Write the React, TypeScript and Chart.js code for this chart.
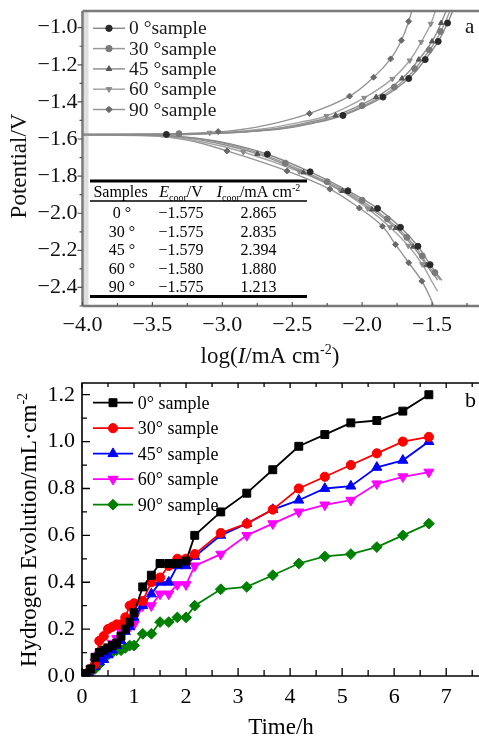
import React, { useEffect, useRef } from 'react';
import { Chart, registerables } from 'chart.js';

Chart.register(...registerables);

const SERIF = '"Liberation Serif", "Times New Roman", "DejaVu Serif", serif';
const CW = 479;
const CH = 370;

type Pt = [number, number];

// ---------------- Panel a: polarization curves (log I, E) ----------------
const aSampleLabels = ['0 °sample', '30 °sample', '45 °sample', '60 °sample', '90 °sample'];
const aXTickValues = [-4.0, -3.5, -3.0, -2.5, -2.0, -1.5];
const aYTickValues = [-2.4, -2.2, -2.0, -1.8, -1.6, -1.4, -1.2, -1.0];

const aCurve0: Pt[] = [
  [-1.43, -2.362], [-1.514, -2.277], [-1.601, -2.178], [-1.726, -2.076], [-1.89, -1.974], [-2.102, -1.879],
  [-2.372, -1.777], [-2.678, -1.682], [-2.95, -1.625], [-3.2, -1.594], [-3.5, -1.579], [-4.3, -1.576],
  [-3.5, -1.574], [-3.0, -1.567], [-2.6, -1.547], [-2.35, -1.515], [-2.137, -1.473], [-1.851, -1.374],
  [-1.667, -1.274], [-1.549, -1.172], [-1.456, -1.074], [-1.389, -0.975], [-1.33, -0.87],
];
const aCurve30: Pt[] = [
  [-1.44, -2.36], [-1.53, -2.28], [-1.62, -2.18], [-1.745, -2.08], [-1.91, -1.98], [-2.12, -1.88],
  [-2.4, -1.78], [-2.72, -1.68], [-3.0, -1.62], [-3.25, -1.592], [-3.5, -1.578], [-4.3, -1.575],
  [-3.5, -1.573], [-3.0, -1.566], [-2.62, -1.546], [-2.37, -1.514], [-2.157, -1.473], [-1.871, -1.374],
  [-1.687, -1.274], [-1.569, -1.172], [-1.476, -1.074], [-1.409, -0.975], [-1.35, -0.87],
];
const aCurve45: Pt[] = [
  [-1.46, -2.36], [-1.54, -2.28], [-1.635, -2.18], [-1.76, -2.08], [-1.93, -1.98], [-2.14, -1.88],
  [-2.42, -1.78], [-2.75, -1.68], [-3.05, -1.62], [-3.3, -1.59], [-3.55, -1.58], [-4.3, -1.579],
  [-3.55, -1.578], [-3.05, -1.57], [-2.67, -1.55], [-2.41, -1.515], [-2.19, -1.473], [-1.9, -1.374],
  [-1.715, -1.274], [-1.595, -1.172], [-1.5, -1.074], [-1.435, -0.975], [-1.38, -0.87],
];
const aCurve60: Pt[] = [
  [-1.46, -2.42], [-1.5, -2.37], [-1.57, -2.275], [-1.67, -2.175], [-1.8, -2.075], [-1.96, -1.975],
  [-2.16, -1.875], [-2.45, -1.775], [-2.85, -1.67], [-3.15, -1.615], [-3.45, -1.585], [-4.3, -1.58],
  [-3.5, -1.579], [-3.0, -1.566], [-2.7, -1.545], [-2.45, -1.51], [-2.255, -1.476], [-1.985, -1.378],
  [-1.784, -1.276], [-1.66, -1.177], [-1.578, -1.077], [-1.509, -0.979], [-1.46, -0.87],
];
const aCurve90: Pt[] = [
  [-1.47, -2.55], [-1.491, -2.493], [-1.573, -2.366], [-1.667, -2.267], [-1.761, -2.169], [-1.855, -2.07],
  [-2.02, -1.972], [-2.231, -1.87], [-2.537, -1.772], [-2.967, -1.664], [-3.25, -1.605], [-3.5, -1.582],
  [-4.3, -1.575], [-3.6, -1.575], [-3.2, -1.569], [-2.9, -1.553], [-2.65, -1.52], [-2.377, -1.462],
  [-2.09, -1.369], [-1.918, -1.267], [-1.796, -1.168], [-1.719, -1.068], [-1.667, -0.966], [-1.63, -0.87],
];

const aMarkers0: Pt[] = [
  [-3.4, -1.575], [-2.678, -1.682], [-2.372, -1.777], [-2.102, -1.879], [-1.89, -1.974], [-1.726, -2.076],
  [-1.601, -2.178], [-1.514, -2.277], [-2.137, -1.473], [-1.851, -1.374], [-1.667, -1.274], [-1.549, -1.172],
  [-1.456, -1.074], [-1.389, -0.975],
];
const aMarkers30: Pt[] = [
  [-3.31, -1.571], [-2.55, -1.73], [-2.25, -1.83], [-2.0, -1.93], [-1.82, -2.03], [-1.68, -2.13],
  [-1.57, -2.23], [-1.48, -2.32], [-2.0, -1.42], [-1.77, -1.32], [-1.625, -1.22], [-1.52, -1.12], [-1.44, -1.02],
];
const aMarkers45: Pt[] = [
  [-2.75, -1.68], [-2.42, -1.78], [-2.14, -1.88], [-1.93, -1.98], [-1.76, -2.08], [-1.635, -2.18],
  [-1.54, -2.28], [-2.19, -1.473], [-1.9, -1.374], [-1.715, -1.274], [-1.595, -1.172], [-1.5, -1.074], [-1.435, -0.975],
];
const aMarkers60: Pt[] = [
  [-3.09, -1.566], [-2.85, -1.67], [-2.45, -1.775], [-2.16, -1.875], [-1.96, -1.975], [-1.8, -2.075],
  [-1.67, -2.175], [-1.57, -2.275], [-2.255, -1.476], [-1.985, -1.378], [-1.784, -1.276], [-1.66, -1.177],
  [-1.578, -1.077], [-1.509, -0.979],
];
const aMarkers90: Pt[] = [
  [-3.03, -1.56], [-2.967, -1.664], [-2.537, -1.772], [-2.231, -1.87], [-2.02, -1.972], [-1.855, -2.07],
  [-1.761, -2.169], [-1.667, -2.267], [-1.573, -2.366], [-2.377, -1.462], [-2.09, -1.369], [-1.918, -1.267],
  [-1.796, -1.168], [-1.719, -1.068], [-1.667, -0.966],
];

const tableSamples = ['0 °', '30 °', '45 °', '60 °', '90 °'];
const tableEcorr = [-1.575, -1.575, -1.579, -1.58, -1.575];
const tableIcorr = ['2.865', '2.835', '2.394', '1.880', '1.213'];

// ---------------- Panel b: hydrogen evolution vs time ----------------
const bSampleLabels = ['0° sample', '30° sample', '45° sample', '60° sample', '90° sample'];
const bXTickValues = [0, 1, 2, 3, 4, 5, 6, 7];
const bYTickValues = [0, 0.2, 0.4, 0.6, 0.8, 1.0, 1.2];
const bTime = [0, 0.083, 0.167, 0.25, 0.333, 0.417, 0.5, 0.583, 0.667, 0.75, 0.833, 0.917, 1.0, 1.167, 1.333, 1.5, 1.667, 1.833, 2.0, 2.167, 2.667, 3.167, 3.667, 4.167, 4.667, 5.167, 5.667, 6.167, 6.667];
const b0 = [0, 0.01, 0.03, 0.08, 0.1, 0.11, 0.12, 0.13, 0.14, 0.17, 0.2, 0.23, 0.27, 0.38, 0.43, 0.48, 0.48, 0.48, 0.49, 0.6, 0.7, 0.78, 0.88, 0.98, 1.03, 1.08, 1.09, 1.13, 1.2];
const b30 = [0, 0.01, 0.03, 0.05, 0.15, 0.17, 0.2, 0.21, 0.22, 0.22, 0.25, 0.3, 0.31, 0.32, 0.4, 0.42, 0.47, 0.5, 0.5, 0.52, 0.61, 0.65, 0.71, 0.8, 0.85, 0.9, 0.95, 1.0, 1.02];
const b45 = [0, 0, 0, 0.04, 0.06, 0.07, 0.09, 0.11, 0.13, 0.15, 0.19, 0.21, 0.25, 0.3, 0.35, 0.4, 0.4, 0.47, 0.47, 0.51, 0.6, 0.65, 0.71, 0.75, 0.8, 0.81, 0.89, 0.92, 1.0];
const b60 = [0, 0.01, 0.03, 0.06, 0.09, 0.11, 0.12, 0.14, 0.16, 0.19, 0.21, 0.21, 0.22, 0.3, 0.3, 0.35, 0.35, 0.39, 0.39, 0.47, 0.52, 0.6, 0.65, 0.7, 0.73, 0.75, 0.82, 0.85, 0.87];
const b90 = [0, 0.01, 0.02, 0.03, 0.05, 0.08, 0.09, 0.1, 0.11, 0.11, 0.12, 0.13, 0.13, 0.18, 0.18, 0.23, 0.23, 0.25, 0.25, 0.3, 0.37, 0.38, 0.43, 0.48, 0.51, 0.52, 0.55, 0.6, 0.65];

// ---------------- helpers ----------------
const toXY = (arr: Pt[]) => arr.map(([x, y]) => ({ x, y }));
const fmtMinus = (v: number, d = 1) => (v < 0 ? '\u2212' : '') + Math.abs(v).toFixed(d);

type Part = { t: string; it?: boolean; sup?: boolean; sub?: boolean };
function drawRich(ctx: CanvasRenderingContext2D, parts: Part[], x: number, y: number, size: number, align: 'left' | 'center', color = '#000') {
  const fontFor = (p: Part) => `${p.it ? 'italic ' : ''}${p.sup || p.sub ? Math.round(size * 0.62) : size}px ${SERIF}`;
  const widths = parts.map((p) => { ctx.font = fontFor(p); return ctx.measureText(p.t).width; });
  const total = widths.reduce((a, b) => a + b, 0);
  let cx = align === 'center' ? x - total / 2 : x;
  ctx.fillStyle = color;
  ctx.textAlign = 'left';
  ctx.textBaseline = 'alphabetic';
  parts.forEach((p, i) => {
    ctx.font = fontFor(p);
    const dy = p.sup ? -size * 0.4 : p.sub ? size * 0.22 : 0;
    ctx.fillText(p.t, cx, y + dy);
    cx += widths[i];
  });
}

function drawMarker(ctx: CanvasRenderingContext2D, style: string, x: number, y: number, r: number, color: string) {
  ctx.save();
  ctx.fillStyle = color;
  ctx.strokeStyle = color;
  ctx.lineWidth = 1;
  ctx.beginPath();
  if (style === 'rect') {
    const s = r * Math.SQRT1_2;
    ctx.rect(x - s, y - s, 2 * s, 2 * s);
  } else if (style === 'circle') {
    ctx.arc(x, y, r, 0, Math.PI * 2);
  } else if (style === 'triangle') {
    ctx.moveTo(x, y - r); ctx.lineTo(x + r * 0.866, y + r * 0.5); ctx.lineTo(x - r * 0.866, y + r * 0.5); ctx.closePath();
  } else if (style === 'triangleDown') {
    ctx.moveTo(x, y + r); ctx.lineTo(x + r * 0.866, y - r * 0.5); ctx.lineTo(x - r * 0.866, y - r * 0.5); ctx.closePath();
  } else {
    ctx.moveTo(x, y - r); ctx.lineTo(x + r, y); ctx.lineTo(x, y + r); ctx.lineTo(x - r, y); ctx.closePath();
  }
  ctx.fill();
  ctx.stroke();
  ctx.restore();
}

const noScalePadding = (s: any) => { s.paddingTop = 0; s.paddingBottom = 0; s.paddingLeft = 0; s.paddingRight = 0; };

// ---------------- Panel a ----------------
const aLineColors = ['#8a8a8a', '#9a9a9a', '#8f8f8f', '#a5a5a5', '#959595'];
const aMarkColors = ['#2a2a2a', '#7a7a7a', '#555555', '#8c8c8c', '#6a6a6a'];
const aMarkStyles = ['circle', 'circle', 'triangle', 'triangleDown', 'rectRot'];

const decorA = {
  id: 'decorA',
  afterDraw(chart: any) {
    const { ctx, chartArea: a, scales } = chart;
    const xs = scales.x, ys = scales.y;
    ctx.save();
    // frame
    ctx.fillStyle = 'rgba(150,150,150,0.3)';
    ctx.fillRect(a.left + 1, a.top, 5, a.bottom - a.top);
    ctx.strokeStyle = '#7a7a7a';
    ctx.lineWidth = 2.5;
    ctx.beginPath();
    ctx.moveTo(a.left, a.top); ctx.lineTo(CW, a.top);
    ctx.moveTo(a.left, a.top); ctx.lineTo(a.left, a.bottom);
    ctx.moveTo(a.left, a.bottom); ctx.lineTo(CW, a.bottom);
    ctx.stroke();
    // ticks
    ctx.lineWidth = 1.2;
    ctx.strokeStyle = '#555';
    ctx.beginPath();
    for (let k = -25; k <= -10; k++) {
      const py = ys.getPixelForValue(k / 10);
      const len = k % 2 === 0 ? 5 : 3;
      ctx.moveTo(a.left - len, py); ctx.lineTo(a.left, py);
    }
    for (let k = -16; k <= -5; k++) {
      const px = xs.getPixelForValue(k / 4);
      const len = k % 2 === 0 ? 4 : 3;
      ctx.moveTo(px, a.bottom); ctx.lineTo(px, a.bottom - len);
    }
    ctx.stroke();

    // legend
    aSampleLabels.forEach((lab, i) => {
      const yc = 28.3 + i * 20.3;
      ctx.strokeStyle = aLineColors[i];
      ctx.lineWidth = 1.5;
      ctx.beginPath(); ctx.moveTo(93, yc); ctx.lineTo(125, yc); ctx.stroke();
      drawMarker(ctx, aMarkStyles[i], 109, yc, 3.2, aMarkColors[i]);
      drawRich(ctx, [{ t: lab }], 129, yc + 6, 19.5, 'left', '#1a1a1a');
    });

    // panel letter
    drawRich(ctx, [{ t: 'a' }], 465, 33, 21, 'left', '#111');

    // inset table
    ctx.strokeStyle = '#000';
    ctx.lineWidth = 3;
    ctx.beginPath(); ctx.moveTo(90, 181); ctx.lineTo(307, 181); ctx.stroke();
    ctx.beginPath(); ctx.moveTo(90, 296.5); ctx.lineTo(307, 296.5); ctx.stroke();
    ctx.lineWidth = 1.5;
    ctx.beginPath(); ctx.moveTo(90, 201); ctx.lineTo(307, 201); ctx.stroke();
    drawRich(ctx, [{ t: 'Samples' }], 120.5, 197, 16, 'center');
    drawRich(ctx, [{ t: 'E', it: true }, { t: 'coor', sub: true }, { t: '/V' }], 181, 197, 16, 'center');
    drawRich(ctx, [{ t: 'I', it: true }, { t: 'coor', sub: true }, { t: '/mA cm' }, { t: '-2', sup: true }], 258.5, 197, 16, 'center');
    tableSamples.forEach((s, i) => {
      const by = 218 + i * 18.6;
      drawRich(ctx, [{ t: s }], 122, by, 16, 'center');
      drawRich(ctx, [{ t: fmtMinus(tableEcorr[i], 3) }], 181, by, 16, 'center');
      drawRich(ctx, [{ t: tableIcorr[i] }], 258.5, by, 16, 'center');
    });

    // axis titles
    drawRich(ctx, [{ t: 'log(' }, { t: 'I', it: true }, { t: '/mA cm' }, { t: '-2', sup: true }, { t: ')' }], 270, 363, 23, 'center', '#111');
    ctx.save();
    ctx.translate(18, 166);
    ctx.rotate(-Math.PI / 2);
    drawRich(ctx, [{ t: 'Potential/V' }], 0, 8, 23, 'center', '#111');
    ctx.restore();
    ctx.restore();
  },
};

function PanelA() {
  const ref = useRef<HTMLCanvasElement>(null);
  useEffect(() => {
    const curves = [aCurve0, aCurve30, aCurve45, aCurve60, aCurve90];
    const markers = [aMarkers0, aMarkers30, aMarkers45, aMarkers60, aMarkers90];
    const datasets: any[] = [
      ...curves.map((c, i) => ({
        label: aSampleLabels[i] + ' curve',
        data: toXY(c),
        showLine: true,
        borderColor: aLineColors[i],
        borderWidth: 1.4,
        pointRadius: 0,
        tension: 0.4,
        order: 2,
      })),
      ...markers.map((m, i) => ({
        label: aSampleLabels[i],
        data: toXY(m),
        showLine: false,
        pointRadius: 3,
        pointStyle: aMarkStyles[i] === 'triangleDown' ? 'triangle' : aMarkStyles[i],
        pointRotation: aMarkStyles[i] === 'triangleDown' ? 180 : 0,
        backgroundColor: aMarkColors[i],
        borderColor: aMarkColors[i],
        borderWidth: 1,
        order: 1,
      })),
    ];
    const tickFont = { family: SERIF, size: 22 };
    const chart = new Chart(ref.current as HTMLCanvasElement, {
      type: 'scatter',
      data: { datasets },
      options: {
        animation: false,
        responsive: false,
        devicePixelRatio: 1,
        layout: { padding: { top: 11, left: 0, right: 0, bottom: 0 } },
        elements: { line: { capBezierPoints: false } as any },
        plugins: { legend: { display: false }, tooltip: { enabled: false }, title: { display: false } },
        scales: {
          x: {
            type: 'linear', min: -4, max: -1.2,
            grid: { display: false, drawTicks: false },
            border: { display: false },
            afterBuildTicks: (s: any) => { s.ticks = aXTickValues.map((v) => ({ value: v })); },
            afterFit: (s: any) => { s.height = 64; noScalePadding(s); },
            ticks: { padding: 6, font: tickFont, color: '#111', autoSkip: false, maxRotation: 0, callback: (v: any) => fmtMinus(Number(v)) },
          },
          y: {
            type: 'linear', min: -2.5, max: -0.91,
            grid: { display: false, drawTicks: false },
            border: { display: false },
            afterBuildTicks: (s: any) => { s.ticks = aYTickValues.map((v) => ({ value: v })); },
            afterFit: (s: any) => { s.width = 82.5; noScalePadding(s); },
            ticks: { padding: 5, font: tickFont, color: '#111', autoSkip: false, callback: (v: any) => fmtMinus(Number(v)) },
          },
        },
      } as any,
      plugins: [decorA],
    });
    return () => chart.destroy();
  }, []);
  return <canvas ref={ref} width={CW} height={CH} style={{ position: 'absolute', left: 0, top: 0, width: CW, height: CH }} />;
}

// ---------------- Panel b ----------------
const bColors = ['#000000', '#ff0000', '#0000ff', '#ff00ff', '#008000'];
const bStyles = ['rect', 'circle', 'triangle', 'triangleDown', 'rectRot'];
const bRadius = [5.6, 4.6, 5.8, 5.8, 5.4];

const decorB = {
  id: 'decorB',
  afterDraw(chart: any) {
    const { ctx, chartArea: a, scales } = chart;
    const xs = scales.x, ys = scales.y;
    ctx.save();
    ctx.strokeStyle = '#000';
    ctx.lineWidth = 1.6;
    ctx.beginPath();
    ctx.moveTo(CW, a.top); ctx.lineTo(a.left, a.top); ctx.lineTo(a.left, a.bottom); ctx.lineTo(CW, a.bottom);
    ctx.stroke();
    ctx.lineWidth = 1.3;
    ctx.beginPath();
    for (let k = 0; k <= 15; k++) {
      const px = xs.getPixelForValue(k / 2);
      const major = k % 2 === 0;
      ctx.moveTo(px, a.bottom); ctx.lineTo(px, a.bottom - (major ? 8 : 6));
      ctx.moveTo(px, a.top); ctx.lineTo(px, a.top + (major ? 5 : 4));
    }
    for (let k = 0; k <= 12; k++) {
      const py = ys.getPixelForValue(k / 10);
      const major = k % 2 === 0;
      ctx.moveTo(a.left, py); ctx.lineTo(a.left + (major ? 8 : 5), py);
    }
    ctx.stroke();

    // legend
    bSampleLabels.forEach((lab, i) => {
      const yc = 32.7 + i * 25.5;
      ctx.strokeStyle = bColors[i];
      ctx.lineWidth = 1.8;
      ctx.beginPath(); ctx.moveTo(93, yc); ctx.lineTo(133, yc); ctx.stroke();
      drawMarker(ctx, bStyles[i], 113, yc, bRadius[i], bColors[i]);
      drawRich(ctx, [{ t: lab }], 137.7, yc + 6, 18, 'left', '#000');
    });
    drawRich(ctx, [{ t: 'b' }], 465, 37, 22, 'left', '#000');

    // axis titles
    drawRich(ctx, [{ t: 'Time/h' }], 281, 364, 23, 'center', '#000');
    ctx.save();
    ctx.translate(28, 160);
    ctx.rotate(-Math.PI / 2);
    drawRich(ctx, [{ t: 'Hydrogen Evolution/mL·cm' }, { t: '-2', sup: true }], 0, 8, 23, 'center', '#000');
    ctx.restore();
    ctx.restore();
  },
};

function PanelB() {
  const ref = useRef<HTMLCanvasElement>(null);
  useEffect(() => {
    const series = [b0, b30, b45, b60, b90];
    const datasets: any[] = series.map((s, i) => ({
      label: bSampleLabels[i],
      data: bTime.map((t, j) => ({ x: t, y: s[j] })),
      showLine: true,
      borderColor: bColors[i],
      backgroundColor: bColors[i],
      borderWidth: 1.8,
      pointRadius: bRadius[i],
      pointStyle: bStyles[i] === 'triangleDown' ? 'triangle' : bStyles[i],
      pointRotation: bStyles[i] === 'triangleDown' ? 180 : 0,
      pointBorderWidth: 1,
      tension: 0,
    }));
    const tickFont = { family: SERIF, size: 22 };
    const chart = new Chart(ref.current as HTMLCanvasElement, {
      type: 'scatter',
      data: { datasets },
      options: {
        animation: false,
        responsive: false,
        devicePixelRatio: 1,
        layout: { padding: { top: 13, left: 0, right: 0, bottom: 0 } },
        plugins: { legend: { display: false }, tooltip: { enabled: false }, title: { display: false } },
        scales: {
          x: {
            type: 'linear', min: 0, max: 7.5,
            grid: { display: false, drawTicks: false },
            border: { display: false },
            afterBuildTicks: (s: any) => { s.ticks = bXTickValues.map((v) => ({ value: v })); },
            afterFit: (s: any) => { s.height = 64; noScalePadding(s); },
            ticks: { padding: 8, font: tickFont, color: '#000', autoSkip: false, maxRotation: 0, callback: (v: any) => String(v) },
          },
          y: {
            type: 'linear', min: 0, max: 1.25,
            grid: { display: false, drawTicks: false },
            border: { display: false },
            afterBuildTicks: (s: any) => { s.ticks = bYTickValues.map((v) => ({ value: v })); },
            afterFit: (s: any) => { s.width = 82; noScalePadding(s); },
            ticks: { padding: 7, font: tickFont, color: '#000', autoSkip: false, callback: (v: any) => Number(v).toFixed(1) },
          },
        },
      } as any,
      plugins: [decorB],
    });
    return () => chart.destroy();
  }, []);
  return <canvas ref={ref} width={CW} height={CH} style={{ position: 'absolute', left: 0, top: CH, width: CW, height: CH }} />;
}

export default function App() {
  return (
    <div style={{ position: 'absolute', left: 0, top: 0, width: CW, height: CH * 2, background: '#fff' }}>
      <PanelA />
      <PanelB />
    </div>
  );
}
